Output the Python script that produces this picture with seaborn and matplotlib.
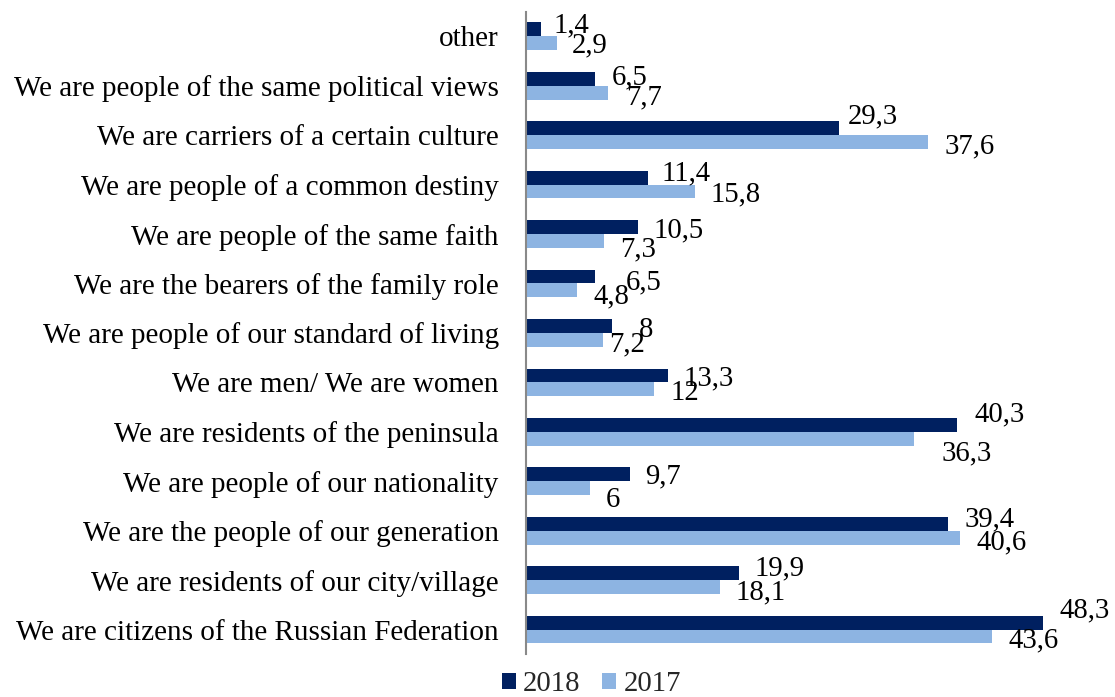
import matplotlib
matplotlib.use("Agg")
import matplotlib.pyplot as plt
import seaborn as sns
import pandas as pd
import numpy as np

categories = [
    "other",
    "We are people of the same political views",
    "We are carriers of a certain culture",
    "We are people of a common destiny",
    "We are people of the same faith",
    "We are the bearers of the family role",
    "We are people of our standard of living",
    "We are men/ We are women",
    "We are residents of the peninsula",
    "We are people of our nationality",
    "We are the people of our generation",
    "We are residents of our city/village",
    "We are citizens of the Russian Federation",
]
values_2018 = [1.4, 6.5, 29.3, 11.4, 10.5, 6.5, 8, 13.3, 40.3, 9.7, 39.4, 19.9, 48.3]
values_2017 = [2.9, 7.7, 37.6, 15.8, 7.3, 4.8, 7.2, 12, 36.3, 6, 40.6, 18.1, 43.6]
series = ["2018", "2017"]
colors = ["#002060", "#8DB4E2"]

# label placement nudges (pixels: right of bar end, below bar centre)
label_dx = {
    "2018": [13, 16, 8, 14, 15, 30, 27, 15, 17, 15, 17, 16, 17],
    "2017": [15, 18, 16, 15, 16, 16, 6, 16, 27, 16, 16, 16, 16],
}
label_dy = {
    "2018": [-6.5, -4, -14, -7, 1, 3.5, 1, 0, -13.5, 0, -6.5, -7.5, -14.5],
    "2017": [0, 2.5, 2, 0, 5.5, 3.5, 2, 1, 12.5, 9, 2, 3, 1],
}

df = pd.DataFrame({
    "category": categories * 2,
    "value": values_2018 + values_2017,
    "year": ["2018"] * len(categories) + ["2017"] * len(categories),
})

sns.set_style("white")
plt.rcParams['font.family'] = ['Liberation Serif', 'DejaVu Serif']

FS = 20.7
FS_TICK = 21.0
fig = plt.figure(figsize=(11.15, 6.97), dpi=100)
ax = fig.add_axes([0.4717, 0.0613, 0.5278, 0.9221])

sns.barplot(data=df, y="category", x="value", hue="year", hue_order=series,
            order=categories, palette=colors, width=0.56, orient="h",
            saturation=1, ax=ax, legend=True, errorbar=None, linewidth=0)

ax.set_xlim(0, 55)
ax.set_ylim(len(categories) - 0.5, -0.5)
ax.set_xlabel("")
ax.set_ylabel("")
ax.set_xticks([])
for s in ["top", "right", "bottom"]:
    ax.spines[s].set_visible(False)
ax.spines["left"].set_color("#898989")
ax.spines["left"].set_linewidth(1.5)

ax.tick_params(axis="y", which="major", length=0, labelsize=FS_TICK, pad=19.5,
               labelcolor="black")
ax.set_yticks(np.arange(-0.5, len(categories), 1.0), minor=True)
ax.tick_params(axis="y", which="minor", length=6, width=1.5, color="#898989",
               direction="out")

def fmt(v):
    if float(v).is_integer():
        return str(int(v))
    return f"{v:.1f}".replace(".", ",")

half_digit = 9.5
for container, name in zip(ax.containers, series):
    vals = values_2018 if name == "2018" else values_2017
    for i, (bar, v) in enumerate(zip(container, vals)):
        y = bar.get_y() + bar.get_height() / 2
        dx = label_dx[name][i]
        dy = -(label_dy[name][i] + half_digit)
        ax.annotate(fmt(v), xy=(bar.get_width(), y), xytext=(dx, dy),
                    textcoords="offset pixels", ha="left", va="baseline",
                    fontsize=FS, color="black", annotation_clip=False)

leg = ax.legend(loc="center", bbox_to_anchor=(0.5305, 0.0187),
                bbox_transform=fig.transFigure, ncol=2, frameon=False,
                fontsize=FS, handlelength=0.49, handleheight=0.49,
                handletextpad=0.25, columnspacing=0.75, borderaxespad=0.0,
                borderpad=0.0)

fig.savefig("out.png", dpi=100)
